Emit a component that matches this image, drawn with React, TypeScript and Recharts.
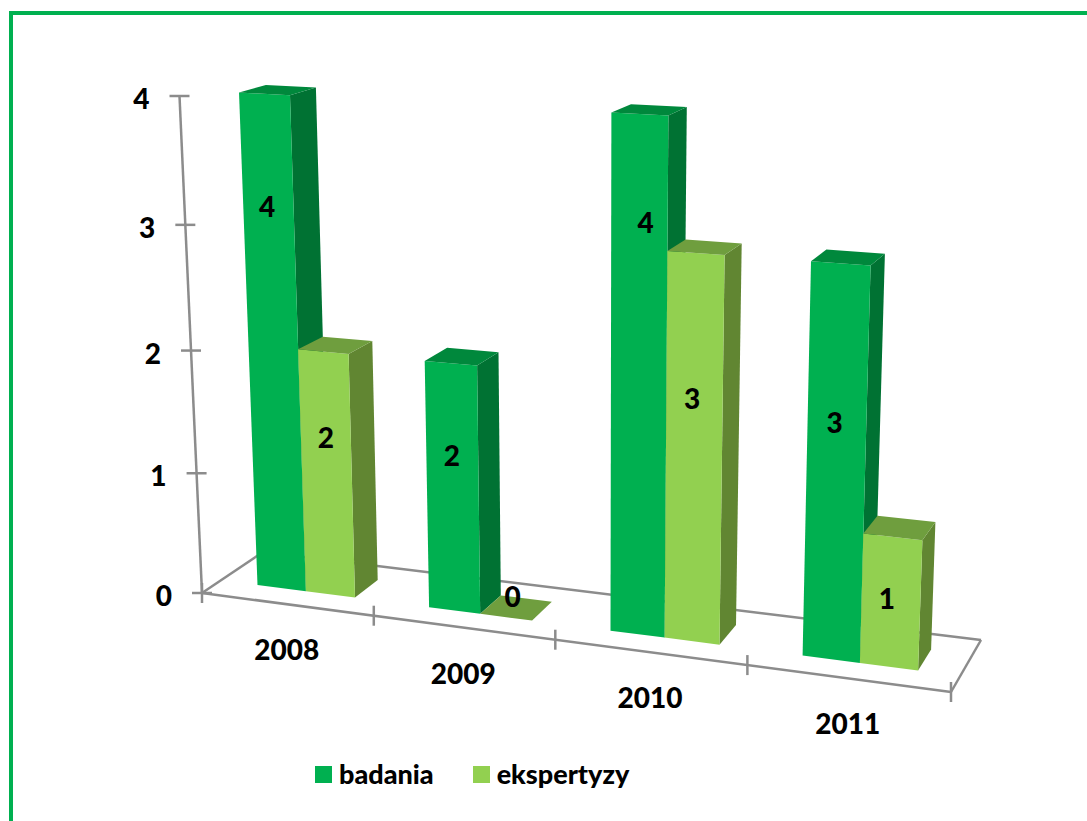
import React from "react";
import { BarChart, Bar, XAxis, YAxis, Legend, LabelList } from "recharts";

const years = ["2008", "2009", "2010", "2011"];
const badania = [4, 2, 4, 3];
const ekspertyzy = [2, 0, 3, 1];
const valueTicks = [0, 1, 2, 3, 4];

const chartData = years.map((year, i) => ({ year, badania: badania[i], ekspertyzy: ekspertyzy[i] }));

const W = 1087;
const H = 821;
const AXIS_SIZE = 1;
const BAR_SHIFT = 2;
const FONT = "Lato, 'Open Sans', sans-serif";
const LINE = "#8c8c8c";

// Cube corners on screen
const A = [202, 593], B = [951, 692], C = [263, 552], D = [981, 640];
const E = [179.5, 96], F = [971, 139], G = [247, 78], K = [1001, 117];
const WARP_U = 0.12;
const WARP_H = 0.05;
const BAR_FRONT = 0.31;
const BAR_BACK = 0.72;

const mix = (a: number[], b: number[], t: number) => [a[0] + (b[0] - a[0]) * t, a[1] + (b[1] - a[1]) * t];

// 3D projection of a plot position (u across, d depth, h height; all 0..1)
const cube = (u: number, d: number, h: number) => {
  const up = u / (1 + WARP_U * (1 - u));
  const hp = h / (1 + WARP_H * (1 - h));
  const low = mix(mix(A, B, up), mix(C, D, up), d);
  const high = mix(mix(E, F, up), mix(G, K, up), d);
  return mix(low, high, hp);
};
const toU = (x: number) => (x - AXIS_SIZE) / (W - AXIS_SIZE);
const toH = (y: number) => (H - AXIS_SIZE - y) / (H - AXIS_SIZE);
const pts = (list: number[][]) => list.map((p) => p.map((n) => n.toFixed(1)).join(",")).join(" ");

const shades: Record<string, { front: string; side: string; top: string }> = {
  badania: { front: "#00b050", side: "#007233", top: "#00883c" },
  ekspertyzy: { front: "#92d050", side: "#618632", top: "#6f9e3e" },
};

const boxShape = (key: string) => (props: any) => {
  const { x, y, width, height } = props;
  const c = shades[key];
  const u0 = toU(x + BAR_SHIFT), u1 = toU(x + BAR_SHIFT + width);
  const h1 = toH(y), h0 = toH(y + height);
  const fbl = cube(u0, BAR_FRONT, h0), fbr = cube(u1, BAR_FRONT, h0);
  const ftl = cube(u0, BAR_FRONT, h1), ftr = cube(u1, BAR_FRONT, h1);
  const bbr = cube(u1, BAR_BACK, h0);
  const btl = cube(u0, BAR_BACK, h1), btr = cube(u1, BAR_BACK, h1);
  return (
    <g>
      <polygon points={pts([fbr, bbr, btr, ftr])} fill={c.side} />
      <polygon points={pts([fbl, fbr, ftr, ftl])} fill={c.front} />
      <polygon points={pts([ftl, ftr, btr, btl])} fill={c.top} />
    </g>
  );
};

// Label placement relative to the middle of the front face, per series and year
const labelShift: Record<string, number[][]> = {
  badania: [[-6, -135], [-1, -32], [7, -152], [-1.5, -39]],
  ekspertyzy: [[-1, -36], [6.5, -21], [-2, -49], [-4, -3.5]],
};

const barLabel = (key: string) => (props: any) => {
  const { x, y, width, height, value, index } = props;
  const u0 = toU(x + BAR_SHIFT), u1 = toU(x + BAR_SHIFT + width);
  const h1 = toH(y), h0 = toH(y + height);
  const a = cube(u0, BAR_FRONT, h0), b = cube(u1, BAR_FRONT, h0);
  const c = cube(u0, BAR_FRONT, h1), d = cube(u1, BAR_FRONT, h1);
  const [dx, dy] = labelShift[key][index];
  return (
    <text
      x={(a[0] + b[0] + c[0] + d[0]) / 4 + dx}
      y={(a[1] + b[1] + c[1] + d[1]) / 4 + dy}
      textAnchor="middle"
      dominantBaseline="central"
      fontFamily={FONT}
      fontWeight={900}
      fontSize={28}
      fill="#000"
    >
      {value}
    </text>
  );
};

const YTick = (props: any) => {
  const h = toH(props.y);
  const p = cube(0, 0, h);
  return (
    <g>
      <line x1={p[0] - 10} x2={p[0] + 10} y1={p[1]} y2={p[1]} stroke={LINE} strokeWidth={2.5} />
      <text x={p[0] - 30} y={p[1] + 2} textAnchor="end" dominantBaseline="central" fontFamily={FONT} fontWeight={900} fontSize={28} fill="#000">
        {props.payload.value}
      </text>
    </g>
  );
};

const XTick = (props: any) => {
  const p = cube(toU(props.x), 0, 0);
  return (
    <text x={p[0]} y={p[1] + 45} textAnchor="middle" dominantBaseline="central" fontFamily={FONT} fontWeight={900} fontSize={28} fill="#000">
      {props.payload.value}
    </text>
  );
};

const Floor = () => {
  const edges = [
    [cube(0, 0, 0), cube(1, 0, 0)],
    [cube(0, 0, 0), cube(0, 1, 0)],
    [cube(0, 1, 0), cube(1, 1, 0)],
    [cube(1, 0, 0), cube(1, 1, 0)],
    [cube(0, 0, 0), cube(0, 0, 1)],
  ];
  const marks = [0, ...years.map((_, i) => (i + 1) / years.length)].map((u) => cube(u, 0, 0));
  return (
    <g>
      {edges.map(([p, q], i) => (
        <line key={i} x1={p[0]} y1={p[1]} x2={q[0]} y2={q[1]} stroke={LINE} strokeWidth={2.5} />
      ))}
      {marks.map((p, i) => (
        <line key={i} x1={p[0]} x2={p[0]} y1={p[1] - 10} y2={p[1] + 10} stroke={LINE} strokeWidth={2.5} />
      ))}
    </g>
  );
};

const LegendBox = (props: any) => (
  <div style={{ display: "flex", alignItems: "center", fontFamily: FONT, fontWeight: 900, fontSize: 27, color: "#000", lineHeight: "30px" }}>
    {(props.payload || []).map((item: any) => (
      <div key={item.value} style={{ display: "flex", alignItems: "center", marginRight: 39 }}>
        <span style={{ display: "inline-block", width: 17, height: 17, background: item.color, marginRight: 7 }} />
        <span>{item.value}</span>
      </div>
    ))}
  </div>
);

export default function App() {
  return (
    <div style={{ position: "absolute", left: 0, top: 0, width: W, height: H, overflow: "hidden", background: "#fff" }}>
      <div style={{ position: "absolute", left: 9, top: 11, right: 0, bottom: 0, borderLeft: "4px solid #00b050", borderTop: "4px solid #00b050" }} />
      <div style={{ position: "absolute", left: 0, top: 0 }}>
        <BarChart width={W} height={H} data={chartData} margin={{ top: 0, right: 0, bottom: 0, left: 0 }} barCategoryGap="21.3%" barGap={0}>
          <Floor />
          <XAxis dataKey="year" height={AXIS_SIZE} axisLine={false} tickLine={false} interval={0} tick={XTick} />
          <YAxis width={AXIS_SIZE} domain={[0, 4]} ticks={valueTicks} axisLine={false} tickLine={false} tick={YTick} interval={0} />
          <Legend
            layout="horizontal"
            align="center"
            verticalAlign="middle"
            wrapperStyle={{ position: "absolute", left: 315, top: 759, width: 400, height: 30 }}
            content={LegendBox}
          />
          <Bar dataKey="badania" name="badania" fill="#00b050" isAnimationActive={false} shape={boxShape("badania")}>
            <LabelList dataKey="badania" content={barLabel("badania")} />
          </Bar>
          <Bar dataKey="ekspertyzy" name="ekspertyzy" fill="#92d050" isAnimationActive={false} shape={boxShape("ekspertyzy")}>
            <LabelList dataKey="ekspertyzy" content={barLabel("ekspertyzy")} />
          </Bar>
        </BarChart>
      </div>
    </div>
  );
}
